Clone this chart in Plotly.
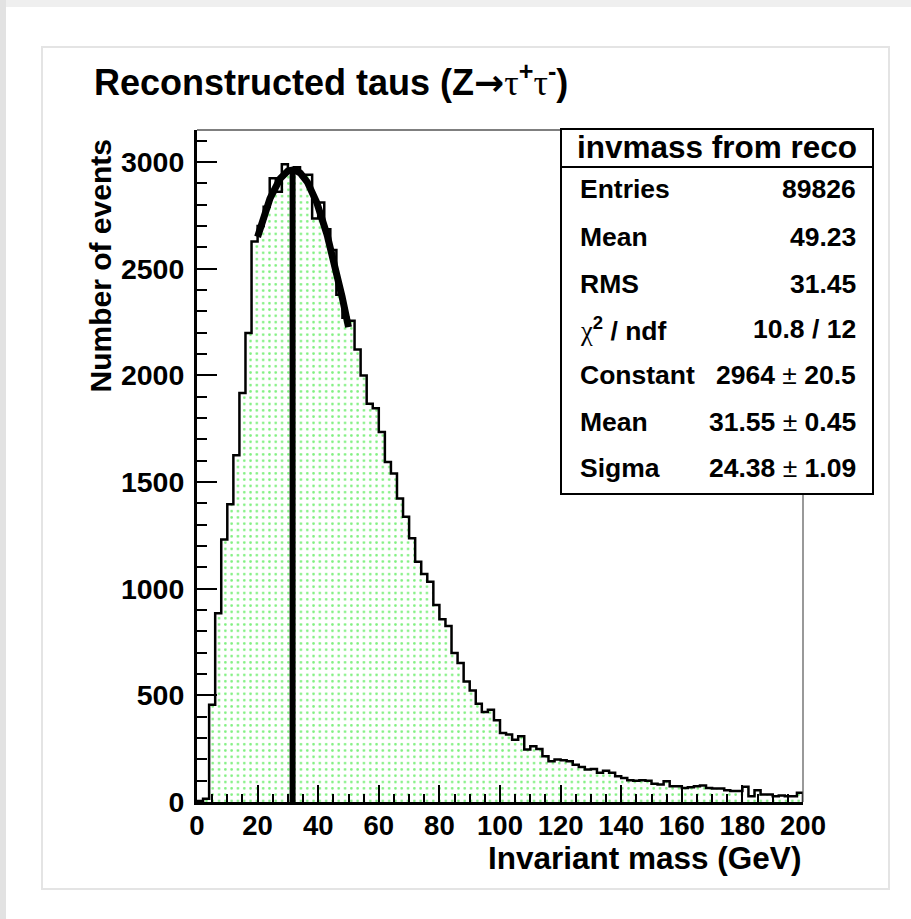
import numpy as np
import plotly.graph_objects as go

# ---------------------------------------------------------------- data
# invariant-mass histogram: 100 bins of 2 GeV between 0 and 200 GeV
x_lo, x_hi, n_bins = 0.0, 200.0, 100
counts = [
    5, 15, 456, 885, 1231, 1396, 1625, 1917, 2199, 2627,        # 0-20
    2700, 2790, 2924, 2860, 2990, 2965, 2975, 2940, 2940, 2735,  # 20-40
    2810, 2685, 2587, 2378, 2270, 2256, 2121, 1999, 1867, 1846,  # 40-60
    1734, 1594, 1540, 1423, 1337, 1236, 1126, 1069, 1033, 924,   # 60-80
    857, 825, 698, 651, 565, 523, 461, 422, 433, 383,            # 80-100
    324, 316, 292, 308, 246, 261, 249, 214, 191, 199,            # 100-120
    196, 191, 175, 164, 152, 155, 137, 147, 137, 121,            # 120-140
    113, 102, 100, 102, 100, 86, 82, 97, 74, 74,                 # 140-160
    66, 69, 74, 77, 66, 63, 63, 55, 51, 51,                      # 160-180
    71, 27, 55, 35, 35, 27, 31, 27, 27, 43,                      # 180-200
]

# gaussian fit result and fit window
fit_const, fit_mean, fit_sigma = 2964.0, 31.55, 24.38
fit_lo, fit_hi = 20.0, 50.0

SERIF = '<span style="font-family:Liberation Serif;font-weight:normal">{}</span>'
PM = '<span style="font-weight:normal">±</span>'

# statistics box
stats_title = "invmass from reco"
stats_labels = ["Entries", "Mean", "RMS", SERIF.format("χ") + "<sup>2</sup> / ndf",
                "Constant", "Mean", "Sigma"]
stats_values = ["89826", "49.23", "31.45", "10.8 / 12",
                f"2964 {PM} 20.5", f"31.55 {PM} 0.45", f"24.38 {PM} 1.09"]

x_ticks = list(range(0, 201, 20))
y_ticks = list(range(0, 3001, 500))
y_max = 3150

ARROW = '<span style="font-family:DejaVu Sans">→</span>'
title = ("Reconstructed taus (Z" + ARROW + SERIF.format("τ") + "<sup>+</sup>"
         + SERIF.format("τ") + "<sup>-</sup>)")
x_title = "Invariant mass (GeV)"
y_title = "Number of events"

# ---------------------------------------------------------------- layout geometry
W, H = 911, 919
L, R, T, B = 197, 108, 130, 117
PW, PH = W - L - R, H - T - B


def px(xp):
    """pixel column -> paper x"""
    return (xp - L) / PW


def py(yp):
    """pixel row -> paper y"""
    return (H - B - yp) / PH


FONT = "Liberation Sans, Arial, Helvetica, sans-serif"
BLACK = "#000000"

# ---------------------------------------------------------------- traces
width = (x_hi - x_lo) / n_bins
edges = [x_lo + i * width for i in range(n_bins + 1)]
step_x = [edges[0]] + edges[:-1] + [edges[-1], edges[-1]]
step_y = [0] + counts + [counts[-1], 0]

fig = go.Figure()

fig.add_trace(go.Scatter(
    x=step_x, y=step_y, mode="lines", line_shape="hv",
    line=dict(color=BLACK, width=2.5),
    fill="tozeroy", fillcolor="white",
    fillpattern=dict(shape=".", fgcolor="#00e000", bgcolor="white",
                     size=6.3, solidity=0.14),
    hoverinfo="skip", showlegend=False,
))

xf = np.linspace(fit_lo, fit_hi, 200)
yf = fit_const * np.exp(-0.5 * ((xf - fit_mean) / fit_sigma) ** 2)
fig.add_trace(go.Scatter(x=xf, y=yf, mode="lines",
                         line=dict(color=BLACK, width=7),
                         hoverinfo="skip", showlegend=False))

fig.add_trace(go.Scatter(x=[fit_mean, fit_mean], y=[0, fit_const],
                         mode="lines", line=dict(color=BLACK, width=6),
                         hoverinfo="skip", showlegend=False))

# ---------------------------------------------------------------- axes
fig.update_xaxes(
    range=[x_lo, x_hi], tickmode="array", tickvals=x_ticks,
    ticks="inside", ticklen=17, tickwidth=2, tickcolor=BLACK,
    minor=dict(ticks="inside", dtick=5, tick0=0, ticklen=8,
               tickwidth=2, tickcolor=BLACK, showgrid=False),
    showline=True, linewidth=3, linecolor=BLACK,
    showgrid=False, zeroline=False,
    tickfont=dict(family=FONT, size=27.5, color=BLACK, weight="bold"),
    ticklabelstandoff=-3,
)
fig.update_yaxes(
    range=[0, y_max], tickmode="array", tickvals=y_ticks,
    ticks="inside", ticklen=20, tickwidth=2, tickcolor=BLACK,
    minor=dict(ticks="inside", dtick=100, tick0=0, ticklen=10,
               tickwidth=2, tickcolor=BLACK, showgrid=False),
    showline=True, linewidth=3, linecolor=BLACK,
    showgrid=False, zeroline=False,
    tickfont=dict(family=FONT, size=28.5, color=BLACK, weight="bold"),
    ticklabelstandoff=4,
)

shapes = [
    # page backdrop
    dict(type="rect", xref="paper", yref="paper", x0=px(0), x1=px(W),
         y0=py(0), y1=py(7), fillcolor="#efefef", line_width=0, layer="below"),
    dict(type="rect", xref="paper", yref="paper", x0=px(0), x1=px(6),
         y0=py(0), y1=py(H), fillcolor="#e2e2e2", line_width=0, layer="below"),
    dict(type="rect", xref="paper", yref="paper", x0=px(42), x1=px(889),
         y0=py(47), y1=py(889), fillcolor="white",
         line=dict(color="#e4e4e4", width=2), layer="below"),
    # upper and right frame edges
    dict(type="line", xref="paper", yref="paper", x0=0, x1=1, y0=1, y1=1,
         line=dict(color=BLACK, width=1.2)),
    dict(type="line", xref="paper", yref="paper", x0=1, x1=1, y0=0, y1=1,
         line=dict(color="#555555", width=1.2)),
    # statistics box
    dict(type="rect", xref="paper", yref="paper", x0=px(561), x1=px(873),
         y0=py(494), y1=py(129), fillcolor="white",
         line=dict(color=BLACK, width=2), layer="above"),
    dict(type="line", xref="paper", yref="paper", x0=px(561), x1=px(873),
         y0=py(167), y1=py(167), line=dict(color=BLACK, width=2)),
]

ann = []
ann.append(dict(text=title, x=px(92), y=py(80), xanchor="left",
                yanchor="middle", font=dict(family=FONT, size=36,
                                            color=BLACK, weight="bold")))
ann.append(dict(text=x_title, x=px(803), y=py(858), xanchor="right",
                yanchor="middle", font=dict(family=FONT, size=31.5,
                                            color=BLACK, weight="bold")))
ann.append(dict(text=y_title, x=px(100), y=py(138), xanchor="center",
                yanchor="top", textangle=-90,
                font=dict(family=FONT, size=30, color=BLACK, weight="bold")))

ann.append(dict(text=stats_title, x=px(717), y=py(147), xanchor="center",
                yanchor="middle", font=dict(family=FONT, size=31.5,
                                            color=BLACK, weight="bold")))
row_y = [189, 237, 284, 329, 375, 422, 468]
rowfont = dict(family=FONT, size=26.5, color=BLACK, weight="bold")
for lab, val, yy in zip(stats_labels, stats_values, row_y):
    ann.append(dict(text=lab, x=px(578), y=py(yy), xanchor="left",
                    yanchor="middle", font=rowfont))
    ann.append(dict(text=val, x=px(858), y=py(yy), xanchor="right",
                    yanchor="middle", font=rowfont))

for a in ann:
    a.update(xref="paper", yref="paper", showarrow=False)

fig.update_layout(
    width=W, height=H,
    margin=dict(l=L, r=R, t=T, b=B, pad=0),
    paper_bgcolor="white", plot_bgcolor="white",
    shapes=shapes, annotations=ann, showlegend=False,
)

fig.write_html("out.html")
